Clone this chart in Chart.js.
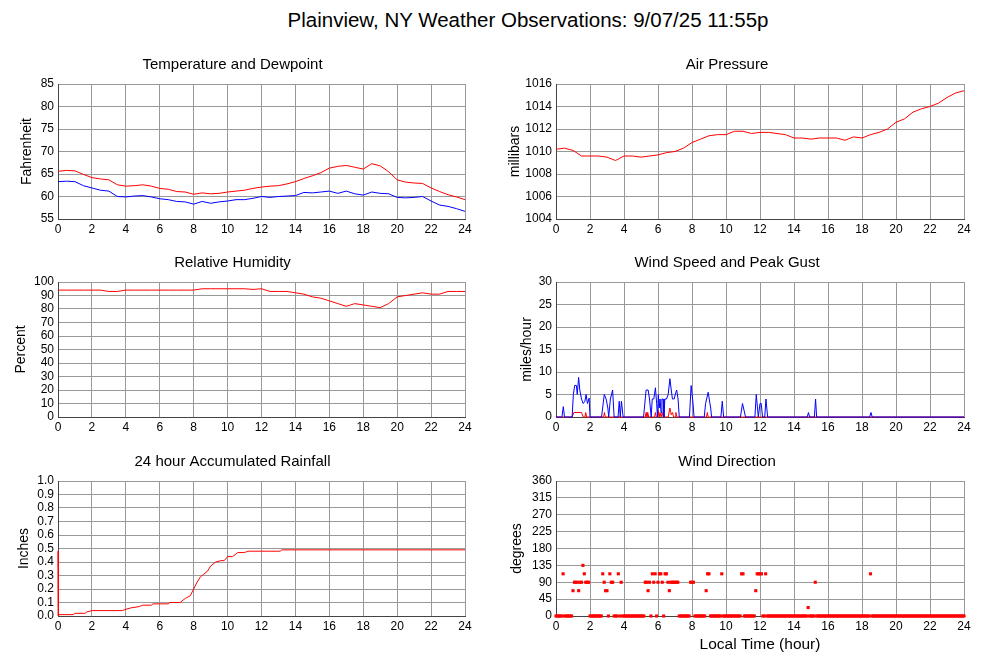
<!DOCTYPE html>
<html>
<head>
<meta charset="utf-8">
<script src="https://cdn.jsdelivr.net/npm/chart.js@4"></script>
<style>
  body { margin: 0; background: #fff; width: 1000px; height: 660px; overflow: hidden; position: relative;
         font-family: "Liberation Sans", Arial, sans-serif; }
  canvas { position: absolute; }
  #title { position: absolute; top: 8px; left: 528px; transform: translateX(-50%); font-size: 20.5px;
           line-height: 24px; white-space: nowrap; color: #000; }
</style>
</head>
<body>
<div id="title">Plainview, NY Weather Observations: 9/07/25 11:55p</div>
<canvas id="temp" width="480" height="187" style="left:0;top:52px"></canvas>
<canvas id="pres" width="490" height="187" style="left:490px;top:52px"></canvas>
<canvas id="hum"  width="480" height="187" style="left:0;top:250px"></canvas>
<canvas id="wind" width="490" height="187" style="left:490px;top:250px"></canvas>
<canvas id="rain" width="480" height="187" style="left:0;top:449px"></canvas>
<canvas id="dir"  width="490" height="209" style="left:490px;top:449px"></canvas>
<script>
// half-hour samples, 0..24
const hours = [0,0.5,1,1.5,2,2.5,3,3.5,4,4.5,5,5.5,6,6.5,7,7.5,8,8.5,9,9.5,10,10.5,11,11.5,12,
               12.5,13,13.5,14,14.5,15,15.5,16,16.5,17,17.5,18,18.5,19,19.5,20,20.5,21,21.5,22,22.5,23,23.5,24];

const temperature = [65.6,65.8,65.7,64.9,64.2,63.9,63.7,62.6,62.3,62.4,62.6,62.3,61.8,61.6,61.1,61.0,60.5,60.8,60.6,60.7,
                     61.0,61.2,61.4,61.8,62.1,62.3,62.4,62.8,63.3,64.0,64.6,65.3,66.3,66.7,66.9,66.5,66.1,67.3,66.8,65.5,
                     63.7,63.2,63.0,62.9,61.9,61.1,60.4,59.9,59.3];
const dewpoint = [63.3,63.4,63.3,62.4,61.9,61.4,61.2,60.0,59.9,60.1,60.2,59.9,59.5,59.3,58.9,58.8,58.3,58.9,58.5,58.8,
                  59.0,59.3,59.3,59.6,60.0,59.8,60.0,60.1,60.2,60.9,60.8,61.0,61.2,60.7,61.2,60.6,60.3,61.0,60.7,60.6,
                  59.8,59.7,59.8,60.0,59.0,58.1,57.8,57.3,56.7];
const pressure = [1010.2,1010.3,1010.1,1009.6,1009.6,1009.6,1009.5,1009.2,1009.6,1009.6,1009.5,1009.6,1009.7,1009.9,1010.0,1010.3,
                  1010.8,1011.1,1011.4,1011.5,1011.5,1011.8,1011.8,1011.6,1011.7,1011.7,1011.6,1011.5,1011.2,1011.2,1011.1,1011.2,
                  1011.2,1011.2,1011.0,1011.3,1011.2,1011.5,1011.7,1012.0,1012.6,1012.9,1013.5,1013.8,1014.0,1014.3,1014.8,1015.2,1015.4];
const humidity = [94,94,94,94,94,94,93,93,94,94,94,94,94,94,94,94,94,95,95,95,95,95,95,94.5,95,93,93,93,92,91,89,88,
                  86,84,82,84,83,82,81,84,89,90,91,92,91,91,93,93,93];

// wind: peak gust (blue) and speed (red), irregular samples
const gustTimes = [0,0.35,0.43,0.5,0.95,1.02,1.1,1.2,1.25,1.33,1.4,1.5,1.6,1.7,1.77,1.85,1.95,2.0,2.68,2.84,2.95,3.05,3.1,3.2,3.33,3.42,
                   3.65,3.72,3.78,3.85,3.95,5.15,5.3,5.42,5.5,5.6,5.66,5.75,5.85,5.92,5.97,6.02,6.07,6.12,6.18,6.23,6.3,6.35,6.4,6.5,
                   6.6,6.7,6.78,6.85,6.95,7.05,7.1,7.18,7.25,7.85,7.95,8.05,8.12,8.72,8.8,8.95,9.1,9.15,9.7,9.78,9.86,10.85,10.97,11.15,
                   11.7,11.78,11.9,12.0,12.07,12.15,12.28,12.35,12.45,14.78,14.85,14.92,15.2,15.27,15.33,18.45,18.53,18.6,24];
const gustValues = [0,0,2.3,0,0,5,7,7,5,8.8,6,4,3,3.5,5,3,4.2,0,0,5,4,2,0,4,6,0,
                    0,3.5,0,3.5,0,0,6,6,4,0,4,4,6.5,3,0,5,2,4,1,4,4,0,4,4,
                    5,8.5,6,4,4,5.5,6,4,0,0,7,3.5,0,0,3,5.5,2,0,0,3.5,0,0,3,0,
                    0,5,0,3,3,0,0,4,0,0,1,0,0,4,0,0,1,0,0];
const speedTimes = [0,0.95,1.05,1.5,1.6,1.7,1.75,1.8,2.8,2.85,2.9,5.25,5.3,5.35,5.4,5.45,5.8,5.85,5.9,5.95,6.0,6.07,6.12,6.18,
                    6.25,6.3,6.6,6.7,6.78,6.85,6.92,7.0,7.05,7.12,8.85,8.9,8.95,24];
const speedValues = [0,0,1,1,0,0,1,0,0,1,0,0,1,0,1,0,0,1,0,0,1.5,0,1,0,
                     1,0,0,2,0.5,1,0,0,1,0,0,1,0,0];

// accumulated rain
const rainTimes = [0,0.02,0.06,0.9,1.0,1.6,1.7,2.0,3.8,4.0,4.3,4.8,5.0,5.5,5.6,6.5,6.6,7.2,7.5,7.8,8.0,8.2,8.4,8.6,8.8,
                   9.0,9.3,9.6,9.8,10.0,10.3,10.6,11.0,11.2,13.1,13.2,24];
const rainValues = [0.48,0.0,0.01,0.01,0.02,0.02,0.03,0.04,0.04,0.05,0.06,0.07,0.08,0.08,0.09,0.09,0.10,0.10,0.13,0.15,0.20,
                    0.25,0.29,0.31,0.33,0.37,0.40,0.41,0.41,0.44,0.44,0.47,0.47,0.48,0.48,0.49,0.49];

// wind direction, 5-minute samples, one row per hour
const dirByHour = [
  [0,0,0,0,0,112.5,0,0,0,0,0,0],
  [67.5,90,90,90,67.5,90,90,135,112.5,90,90,90],
  [0,0,0,0,0,0,0,0,0,112.5,90,67.5],
  [67.5,0,112.5,90,90,0,0,0,112.5,0,90,0],
  [0,0,0,0,0,0,0,0,0,0,0,0],
  [0,0,0,90,90,67.5,90,0,112.5,90,112.5,0],
  [90,112.5,112.5,90,0,112.5,112.5,90,67.5,90,90,90],
  [90,90,90,0,0,0,0,0,0,0,0,90],
  [90,90,0,0,0,0,0,0,0,0,67.5,112.5],
  [112.5,0,0,0,0,0,0,0,0,112.5,0,0],
  [0,0,0,0,0,0,0,0,0,0,0,112.5],
  [112.5,0,0,0,0,0,0,0,0,67.5,112.5,112.5],
  [112.5,112.5,0,0,112.5,0,0,0,0,0,0,0],
  [0,0,0,0,0,0,0,0,0,0,0,0],
  [0,0,0,0,0,0,0,0,0,0,22.5,0],
  [0,0,0,90,0,0,0,0,0,0,0,0],
  [0,0,0,0,0,0,0,0,0,0,0,0],
  [0,0,0,0,0,0,0,0,0,0,0,0],
  [0,0,0,0,0,0,112.5,0,0,0,0,0],
  [0,0,0,0,0,0,0,0,0,0,0,0],
  [0,0,0,0,0,0,0,0,0,0,0,0],
  [0,0,0,0,0,0,0,0,0,0,0,0],
  [0,0,0,0,0,0,0,0,0,0,0,0],
  [0,0,0,0,0,0,0,0,0,0,0,0]
];
const dirLast = 0; // reading at 24:00

const RED = '#ff0000', BLUE = '#0000ff';
const font = '"Liberation Sans", Arial, sans-serif';
Chart.defaults.font.family = font;
Chart.defaults.color = '#000';

function pts(xs, ys) { return xs.map((x, i) => ({ x: x, y: ys[i] })); }

function line(xs, ys, color) {
  return { data: pts(xs, ys), borderColor: color, borderWidth: 1, pointRadius: 0, tension: 0, clip: false };
}

function makeChart(id, o) {
  const xAxis = {
    type: 'linear', min: 0, max: 24,
    afterFit: s => { s.height = o.xHeight || 20; },
    ticks: { stepSize: 2, autoSkip: false, maxRotation: 0, padding: 3, font: { size: 12 } },
    grid: { color: '#999', drawTicks: false },
    border: { color: '#444' }
  };
  if (o.xLabel) {
    xAxis.title = { display: true, text: o.xLabel, font: { size: 15.5 }, padding: { top: 0, bottom: 4 } };
  }
  return new Chart(document.getElementById(id), {
    type: o.type || 'line',
    data: { datasets: o.datasets },
    options: {
      responsive: false,
      animation: false,
      layout: { padding: { left: 0, right: o.padRight, top: 0, bottom: 0 } },
      plugins: {
        legend: { display: false },
        tooltip: { enabled: false },
        title: { display: true, text: o.title, font: { size: 15, weight: 'normal' }, padding: { top: 4, bottom: 10 } }
      },
      scales: {
        x: xAxis,
        y: {
          min: o.min, max: o.max,
          afterFit: s => { s.width = o.yWidth; },
          ticks: { stepSize: o.step, autoSkip: false, padding: 4, font: { size: 12 }, callback: o.fmt || (v => v) },
          grid: { color: '#999', drawTicks: false },
          border: { color: '#444' },
          title: { display: true, text: o.yLabel, font: { size: 14 }, padding: { top: o.yPad, bottom: 0 } }
        }
      }
    }
  });
}

makeChart('temp', {
  title: 'Temperature and Dewpoint', yLabel: 'Fahrenheit', min: 55, max: 85, step: 5,
  yWidth: 58, padRight: 15, yPad: 19,
  datasets: [line(hours, temperature, RED), line(hours, dewpoint, BLUE)]
});

makeChart('pres', {
  title: 'Air Pressure', yLabel: 'millibars', min: 1004, max: 1016, step: 2,
  yWidth: 66, padRight: 16, yPad: 16.6,
  datasets: [line(hours, pressure, RED)]
});

makeChart('hum', {
  title: 'Relative Humidity', yLabel: 'Percent', min: 0, max: 100, step: 10,
  yWidth: 58, padRight: 15, yPad: 12.6,
  datasets: [line(hours, humidity, RED)]
});

makeChart('wind', {
  title: 'Wind Speed and Peak Gust', yLabel: 'miles/hour', min: 0, max: 30, step: 5,
  yWidth: 66, padRight: 16, yPad: 28.3,
  datasets: [line(gustTimes, gustValues, BLUE), line(speedTimes, speedValues, RED)]
});

makeChart('rain', {
  title: '24 hour Accumulated Rainfall', yLabel: 'Inches', min: 0, max: 1, step: 0.1,
  yWidth: 58, padRight: 15, yPad: 15.6, fmt: v => v.toFixed(1),
  datasets: [line(rainTimes, rainValues, RED)]
});

// scatter points for direction
const dirPoints = [];
dirByHour.forEach((row, h) => row.forEach((d, k) => dirPoints.push({ x: h + k / 12, y: d })));
dirPoints.push({ x: 24, y: dirLast });

makeChart('dir', {
  type: 'scatter',
  title: 'Wind Direction', yLabel: 'degrees', xLabel: 'Local Time (hour)', min: 0, max: 360, step: 45,
  yWidth: 66, padRight: 16, yPad: 18.6, xHeight: 42,
  datasets: [{ data: dirPoints, pointStyle: 'rect', pointRadius: 2.2, backgroundColor: RED,
               borderWidth: 0, showLine: false, clip: false }]
});
</script>
</body>
</html>
